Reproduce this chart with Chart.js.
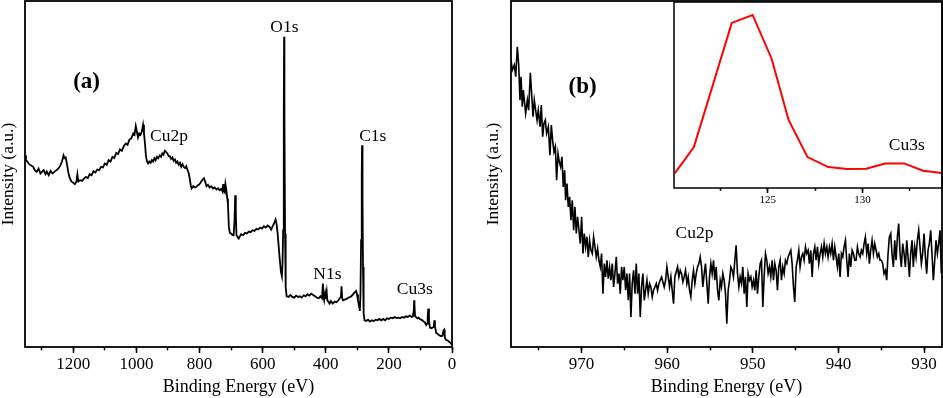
<!DOCTYPE html>
<html lang="en">
<head>
<meta charset="UTF-8" />
<title>XPS spectra</title>
<script src="https://cdn.jsdelivr.net/npm/chart.js"></script>
<style>
  body { margin: 0; background: #fff; }
  .wrap { position: relative; width: 943px; height: 398px; overflow: hidden; }
  canvas { position: absolute; top: 0; }
</style>
</head>
<body>
<div class="wrap">
  <canvas id="surveyChart" width="470" height="398" style="left:0"></canvas>
  <canvas id="cu2pChart" width="458" height="398" style="left:485px"></canvas>
  <canvas id="cu3sChart" width="270" height="215" style="left:673px"></canvas>
</div>

<script>
// (a) survey spectrum, binding energy (eV) / intensity (a.u.)
const surveyEnergy = [
  1353, 1350, 1345, 1340, 1335, 1327, 1322, 1316, 1310, 1304,
  1300, 1294, 1288, 1284, 1278, 1272, 1266, 1260, 1253, 1247,
  1242, 1236, 1231, 1228, 1224, 1220, 1216, 1212, 1206, 1200,
  1195, 1190, 1187, 1184, 1178, 1172, 1166, 1160, 1154, 1148,
  1142, 1136, 1130, 1124, 1118, 1112, 1106, 1100, 1094, 1088,
  1082, 1076, 1070, 1064, 1058, 1052, 1046, 1040, 1034, 1028,
  1022, 1016, 1010, 1006, 1002, 999, 995, 991, 987, 983,
  979, 976, 973, 970, 967, 963, 959, 955, 951, 947,
  943, 939, 935, 931, 926, 922, 918, 914, 910, 906,
  902, 898, 894, 890, 886, 882, 878, 874, 870, 866,
  862, 858, 854, 850, 846, 842, 838, 834, 831, 828,
  825, 820, 815, 810, 805, 800, 795, 790, 786, 782,
  778, 773, 768, 763, 757, 752, 746, 741, 736, 731,
  727, 725, 723, 720, 718, 715, 712, 710, 707, 704,
  700, 696, 692, 689, 687, 685, 683, 680, 676, 672,
  668, 662, 656, 650, 644, 638, 632, 626, 620, 614,
  608, 602, 596, 590, 584, 578, 573, 568, 563, 559,
  556, 553, 549, 546, 542, 539, 537, 535, 533, 532,
  531, 529, 527, 524, 518, 512, 506, 500, 494, 488,
  482, 476, 470, 464, 458, 452, 446, 440, 434, 428,
  422, 417, 412, 409, 407, 405, 402, 400, 397, 395,
  392, 388, 384, 378, 372, 366, 360, 356, 352, 350,
  348, 345, 340, 334, 328, 322, 316, 312, 308, 304,
  301, 298, 294, 292, 290, 288, 286, 285, 284, 283,
  282, 280, 277, 272, 266, 260, 254, 248, 242, 236,
  230, 224, 218, 212, 206, 200, 194, 188, 182, 176,
  170, 164, 158, 152, 146, 140, 134, 128, 124, 121,
  120, 119, 117, 114, 110, 106, 102, 98, 94, 90,
  86, 82, 79, 77, 75, 73, 70, 66, 62, 58,
  56, 54, 50, 46, 42, 38, 34, 30, 27, 25,
  23, 20, 16, 12, 8, 4, 0
];
const surveyCounts = [
  575, 560, 555, 548, 545, 540, 530, 525, 535, 520,
  524, 530, 518, 526, 515, 528, 520, 525, 530, 535,
  542, 555, 574, 566, 568, 548, 525, 508, 496, 492,
  488, 496, 518, 496, 500, 498, 505, 510, 506, 518,
  515, 527, 523, 532, 530, 540, 538, 550, 546, 560,
  556, 570, 566, 582, 578, 592, 588, 602, 610, 606,
  622, 626, 640, 636, 662, 648, 628, 640, 636, 646,
  666, 640, 612, 575, 558, 550, 556, 552, 560, 556,
  566, 560, 570, 566, 574, 570, 580, 576, 588, 585,
  580, 572, 572, 564, 568, 558, 562, 552, 556, 546,
  552, 540, 548, 540, 536, 542, 530, 520, 505, 485,
  475, 482, 478, 480, 485, 488, 495, 502, 506, 495,
  482, 486, 478, 482, 475, 478, 472, 476, 470, 474,
  466, 488, 470, 464, 488, 470, 445, 430, 360, 342,
  340, 336, 335, 380, 455, 400, 336, 330, 325, 332,
  338, 335, 342, 340, 346, 344, 350, 348, 354, 352,
  358, 355, 362, 358, 364, 360, 352, 362, 372, 382,
  370, 345, 300, 265, 225, 212, 250, 350, 700, 930,
  700, 340, 180, 152, 150, 156, 150, 148, 154, 150,
  152, 148, 155, 152, 158, 154, 160, 156, 152, 148,
  146, 152, 146, 190, 150, 140, 160, 144, 165, 140,
  136, 130, 138, 130, 136, 134, 140, 146, 150, 182,
  146, 140, 142, 144, 148, 150, 155, 160, 164, 168,
  158, 140, 120, 108, 160, 320, 520, 605, 600, 440,
  240, 100, 80, 78, 82, 76, 80, 78, 82, 80,
  84, 80, 84, 80, 86, 84, 88, 86, 90, 87,
  88, 86, 90, 88, 92, 90, 94, 90, 92, 110,
  140, 128, 92, 90, 86, 88, 84, 82, 80, 76,
  74, 66, 70, 90, 115, 80, 58, 56, 58, 60,
  80, 62, 42, 40, 36, 34, 32, 34, 50, 52,
  30, 22, 20, 18, 14, 12, 6
];

// (b) Cu2p region
const cu2pEnergy = [
  978.25, 978.09, 977.86, 977.70, 977.51, 977.35, 977.20, 977.08, 976.93, 976.81,
  976.69, 976.54, 976.34, 976.19, 975.99, 975.84, 975.68, 975.53, 975.37, 975.21,
  975.06, 974.86, 974.71, 974.55, 974.40, 974.24, 974.09, 973.89, 973.70, 973.54,
  973.39, 973.23, 973.07, 972.92, 972.76, 972.61, 972.45, 972.30, 972.14, 971.98,
  971.87, 971.71, 971.56, 971.40, 971.25, 971.09, 970.93, 970.78, 970.62, 970.47,
  970.31, 970.16, 970.00,
  969.84, 969.69, 969.53, 969.38, 969.22, 969.07, 968.91, 968.75, 968.60, 968.44,
  968.29, 968.13, 967.98, 967.82, 967.67, 967.51, 967.35, 967.20, 967.04, 966.89,
  966.73, 966.58, 966.42, 966.26, 966.11, 965.95, 965.80, 965.64, 965.49, 965.33,
  965.18, 965.02, 964.86, 964.71, 964.55, 964.40, 964.24, 964.09, 963.93, 963.77,
  963.62, 963.46, 963.31, 963.15, 963.00, 962.84, 962.68, 962.53, 962.37, 962.22,
  962.06, 961.91, 961.75, 961.60, 961.44, 961.28, 961.13, 960.97, 960.82, 960.66,
  960.51, 960.35, 960.19, 960.04, 959.88, 959.73, 959.57, 959.42, 959.26, 959.11,
  958.95, 958.79, 958.64, 958.48, 958.33, 958.17, 958.02, 957.86, 957.70, 957.55,
  957.39, 957.24, 957.08, 956.93, 956.77, 956.61, 956.46, 956.30, 956.15, 955.99,
  955.84, 955.68, 955.53, 955.37, 955.21, 955.06, 954.90, 954.75, 954.59, 954.44,
  954.28, 954.12, 953.97, 953.81, 953.66, 953.50, 953.35, 953.19, 953.04, 952.88,
  952.72, 952.57, 952.41, 952.26, 952.10, 951.95, 951.79, 951.63, 951.48, 951.32,
  951.17, 951.01, 950.86, 950.70, 950.55, 950.39, 950.23, 950.08, 949.92, 949.77,
  949.61, 949.46, 949.30, 949.14, 948.99, 948.83, 948.68, 948.52, 948.37, 948.21,
  948.05, 947.90, 947.74, 947.59, 947.43, 947.28, 947.12, 946.97, 946.81, 946.65,
  946.50, 946.34, 946.19, 946.03, 945.88, 945.72, 945.56, 945.41, 945.25, 945.10,
  944.94, 944.79, 944.63, 944.48, 944.32, 944.16, 944.01, 943.85, 943.70, 943.54,
  943.39, 943.23, 943.07, 942.92, 942.76, 942.61, 942.45, 942.30, 942.14, 941.98,
  941.83, 941.67, 941.52, 941.36, 941.21, 941.05, 940.90, 940.74, 940.58, 940.43,
  940.27, 940.12, 939.96, 939.81, 939.65, 939.49, 939.34, 939.18, 939.03, 938.87,
  938.72, 938.56, 938.40, 938.25, 938.09, 937.94, 937.78, 937.63, 937.47, 937.32,
  937.16, 937.00, 936.85, 936.69, 936.54, 936.38, 936.23, 936.07, 935.91, 935.76,
  935.60, 935.45, 935.29, 935.14, 934.98, 934.83, 934.67, 934.51, 934.36, 934.20,
  934.05, 933.89, 933.74, 933.58, 933.42, 933.27, 933.11, 932.96, 932.80, 932.65,
  932.49, 932.33, 932.18, 932.02, 931.87, 931.71, 931.56, 931.40, 931.25, 931.09,
  930.93, 930.78, 930.62, 930.47, 930.31, 930.16, 930.00, 929.84, 929.69, 929.53,
  929.38, 929.22, 929.07, 928.91, 928.75, 928.60, 928.44, 928.29, 928.13, 927.98
];
const cu2pCounts = [
  860, 830, 845, 810, 900, 845, 740, 810, 720, 770,
  740, 700, 740, 710, 822, 760, 690, 740, 710, 680,
  710, 660, 725, 630, 670, 680, 640, 660, 575, 665,
  620, 585, 600, 500, 580, 555, 540, 570, 480, 530,
  440, 490, 420, 450, 380, 440, 350, 420, 340, 390,
  350, 310, 390,
  280, 340, 300, 330, 270, 320, 290, 280, 330, 300,
  270, 295, 260, 240, 280, 160, 250, 210, 260, 205,
  240, 200, 250, 180, 220, 270, 190, 220, 160, 240,
  200, 240, 170, 220, 140, 220, 90, 190, 230, 160,
  250, 160, 220, 90, 180, 220, 140, 170, 200, 160,
  190, 180, 150, 170, 180, 190, 170, 190, 200, 210,
  195, 180, 200, 240, 210, 180, 210, 170, 130, 210,
  225, 240, 210, 230, 220, 195, 210, 230, 190, 210,
  170, 150, 200, 230, 190, 220, 240, 250, 270, 240,
  180, 220, 250, 190, 130, 210, 250, 220, 260, 200,
  240, 170, 140, 200, 180, 220, 200, 160, 70, 170,
  200, 240, 230, 210, 260, 305, 220, 180, 210, 190,
  240, 160, 210, 120, 220, 200, 210, 180, 200, 170,
  230, 160, 210, 250, 260, 120, 210, 280, 260, 220,
  240, 210, 260, 200, 250, 230, 170, 240, 260, 200,
  240, 220, 260, 250, 270, 280, 290, 250, 180, 135,
  240, 260, 290, 240, 270, 280, 260, 300, 280, 290,
  250, 290, 210, 280, 300, 260, 300, 250, 280, 300,
  270, 310, 280, 300, 270, 300, 280, 310, 260, 300,
  270, 240, 280, 210, 280, 270, 300, 320, 260, 210,
  280, 240, 290, 280, 260, 260, 300, 280, 270, 290,
  280, 310, 330, 280, 310, 250, 290, 320, 280, 310,
  290, 270, 280, 260, 260, 250, 220, 230, 200, 280,
  330, 340, 280, 240, 320, 260, 330, 370, 280, 240,
  310, 280, 240, 320, 270, 210, 280, 320, 240, 300,
  270, 320, 350, 300, 250, 280, 340, 270, 220, 290,
  310, 350, 280, 200, 260, 320, 280, 310, 350, 220
];

// inset: Cu3s region
const cu3sEnergy = [120.1, 121.1, 123.1, 124.2, 125.2, 126.1, 127.1, 128.2, 129.2, 130.2, 131.2, 132.2, 133.2, 134.2];
const cu3sCounts = [45, 123, 497, 521, 390, 205, 93, 63, 57, 58, 74, 74, 52, 45];

const serif = "'Liberation Serif', 'Times New Roman', serif";
Chart.defaults.font.family = serif;
Chart.defaults.color = '#000';

// box around the plot area + peak labels
const framePlugin = {
    id: 'frame',
    afterDraw(chart, args, opts) {
        const ctx = chart.ctx;
        const a = chart.chartArea;
        ctx.save();
        ctx.lineWidth = opts.width || 1.8;
        ctx.strokeStyle = '#000';
        ctx.strokeRect(a.left, a.top, a.right - a.left, a.bottom - a.top);
        ctx.fillStyle = '#000';
        (opts.labels || []).forEach(l => {
            ctx.font = l.font;
            ctx.textAlign = l.align || 'center';
            ctx.textBaseline = l.baseline || 'alphabetic';
            ctx.fillText(l.text, chart.scales.x.getPixelForValue(l.x), chart.scales.y.getPixelForValue(l.y));
        });
        ctx.restore();
    }
};

function toPoints(xs, ys) {
    return xs.map((x, i) => ({ x: x, y: ys[i] }));
}

function bottomAxes(min, max, step, minorStep, opt) {
    return {
        x: {
            type: 'linear', position: 'bottom', reverse: opt.reverse, min: min, max: max, weight: 1,
            afterFit(s) { s.height = opt.height; },
            border: { display: false },
            grid: { drawOnChartArea: false, tickLength: opt.tick, tickWidth: 1.5, tickColor: '#000' },
            ticks: {
                stepSize: step, includeBounds: false, autoSkip: false, maxRotation: 0,
                padding: 1, font: { size: opt.fontSize }, callback: v => String(v)
            },
            title: opt.title ? {
                display: true, text: opt.title, font: { size: 18, lineHeight: 1 },
                padding: { top: 0, bottom: 1.5 }
            } : { display: false }
        },
        xMinor: {
            type: 'linear', position: 'bottom', reverse: opt.reverse, min: min, max: max, weight: 0,
            afterFit(s) { s.height = 0; },
            border: { display: false },
            grid: { drawOnChartArea: false, tickLength: opt.tick * 0.55, tickWidth: 1.5, tickColor: '#000' },
            ticks: { display: false, stepSize: minorStep, includeBounds: false, autoSkip: false }
        }
    };
}

function intensityAxis(width) {
    return {
        min: 0, max: 1037,
        afterFit(s) { s.width = width; },
        border: { display: false },
        grid: { display: false },
        ticks: { display: false },
        title: { display: true, text: 'Intensity (a.u.)', font: { size: 17.5, lineHeight: 1 }, padding: 0 }
    };
}

const labelFont = "17.5px " + serif;
const panelFont = "bold 23px " + serif;

// (a)
let scalesA = bottomAxes(0, 1353, 200, 100, { reverse: true, height: 51, tick: 6, fontSize: 17, title: 'Binding Energy (eV)' });
scalesA.y = intensityAxis(25);
new Chart(document.getElementById('surveyChart'), {
    type: 'line',
    data: {
        datasets: [{
            data: toPoints(surveyEnergy, surveyCounts),
            borderColor: '#000', borderWidth: 1.8, pointRadius: 0, tension: 0
        }]
    },
    options: {
        responsive: false, animation: false,
        layout: { padding: { left: 0, top: 1, right: 18, bottom: 0 } },
        plugins: {
            legend: { display: false }, tooltip: { enabled: false },
            frame: {
                labels: [
                    { text: '(a)', x: 1158, y: 794, font: panelFont, baseline: 'middle' },
                    { text: 'O1s', x: 531, y: 944, font: labelFont },
                    { text: 'Cu2p', x: 957, y: 618, font: labelFont, align: 'left' },
                    { text: 'C1s', x: 251, y: 616, font: labelFont },
                    { text: 'N1s', x: 395, y: 203, font: labelFont },
                    { text: 'Cu3s', x: 118, y: 158, font: labelFont }
                ]
            }
        },
        scales: scalesA
    },
    plugins: [framePlugin]
});

// (b)
let scalesB = bottomAxes(927.9, 978.25, 10, 5, { reverse: true, height: 51, tick: 6, fontSize: 17, title: 'Binding Energy (eV)' });
scalesB.y = intensityAxis(26);
new Chart(document.getElementById('cu2pChart'), {
    type: 'line',
    data: {
        datasets: [{
            data: toPoints(cu2pEnergy, cu2pCounts),
            borderColor: '#000', borderWidth: 1.6, pointRadius: 0, tension: 0
        }]
    },
    options: {
        responsive: false, animation: false,
        layout: { padding: { left: 0, top: 1, right: 1, bottom: 0 } },
        plugins: {
            legend: { display: false }, tooltip: { enabled: false },
            frame: {
                labels: [
                    { text: '(b)', x: 969.88, y: 780, font: panelFont, baseline: 'middle' },
                    { text: 'Cu2p', x: 956.81, y: 328, font: labelFont }
                ]
            }
        },
        scales: scalesB
    },
    plugins: [framePlugin]
});

// inset
let scalesC = bottomAxes(120.05, 134.2, 5, 2.5, { reverse: false, height: 27, tick: 5, fontSize: 11 });
scalesC.y = { display: false, min: 0, max: 560 };
new Chart(document.getElementById('cu3sChart'), {
    type: 'line',
    data: {
        datasets: [{
            data: toPoints(cu3sEnergy, cu3sCounts),
            borderColor: '#f00', borderWidth: 2, pointRadius: 0, tension: 0
        }]
    },
    options: {
        responsive: false, animation: false,
        layout: { padding: { left: 1, top: 2, right: 1, bottom: 0 } },
        plugins: {
            legend: { display: false }, tooltip: { enabled: false },
            frame: {
                width: 1.5,
                labels: [
                    { text: 'Cu3s', x: 132.34, y: 113, font: labelFont }
                ]
            }
        },
        scales: scalesC
    },
    plugins: [framePlugin]
});
</script>
</body>
</html>
